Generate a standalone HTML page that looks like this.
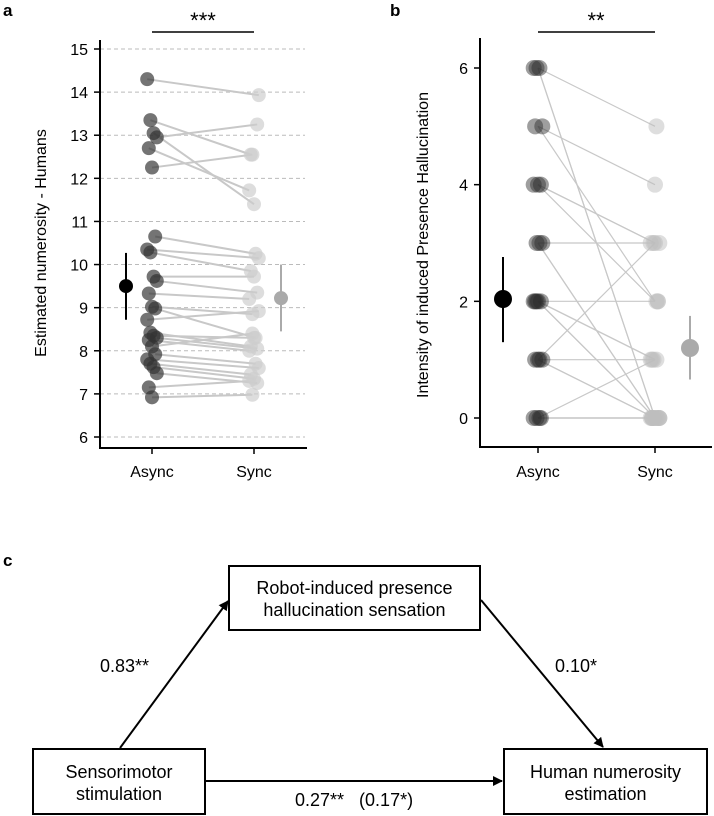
<!DOCTYPE html>
<html><head><meta charset="utf-8">
<style>
body{margin:0;background:#fff;}
svg{display:block;font-family:"Liberation Sans",Arial,sans-serif;}
</style></head>
<body>
<svg id="fig" width="714" height="816" viewBox="0 0 714 816">
  <text x="3" y="16" font-size="17" font-weight="bold">a</text>
  <text x="390" y="16" font-size="17" font-weight="bold">b</text>
  <text x="3" y="566" font-size="17" font-weight="bold">c</text>
  <g id="pa"></g>
  <g id="pb"></g>
  <g id="pc">
    <defs><marker id="ah" markerWidth="5" markerHeight="5" refX="4.5" refY="2.5" orient="auto" markerUnits="strokeWidth"><path d="M0,0 L5,2.5 L0,5 z" fill="#000"/></marker></defs>
    <rect x="229" y="566" width="251" height="64" fill="#fff" stroke="#000" stroke-width="2"/>
    <text x="354.5" y="594" font-size="18" text-anchor="middle">Robot-induced presence</text>
    <text x="354.5" y="616" font-size="18" text-anchor="middle">hallucination sensation</text>
    <rect x="33" y="749" width="172" height="65" fill="#fff" stroke="#000" stroke-width="2"/>
    <text x="119" y="778" font-size="18" text-anchor="middle">Sensorimotor</text>
    <text x="119" y="800" font-size="18" text-anchor="middle">stimulation</text>
    <rect x="504" y="749" width="203" height="65" fill="#fff" stroke="#000" stroke-width="2"/>
    <text x="605.5" y="778" font-size="18" text-anchor="middle">Human numerosity</text>
    <text x="605.5" y="800" font-size="18" text-anchor="middle">estimation</text>
    <line x1="120" y1="748" x2="228" y2="601" stroke="#000" stroke-width="2" marker-end="url(#ah)"/>
    <line x1="481" y1="600" x2="603" y2="747" stroke="#000" stroke-width="2" marker-end="url(#ah)"/>
    <line x1="205" y1="781" x2="502" y2="781" stroke="#000" stroke-width="2" marker-end="url(#ah)"/>
    <text x="100" y="672" font-size="18">0.83**</text>
    <text x="555" y="672" font-size="18">0.10*</text>
    <text x="295" y="806" font-size="18" xml:space="preserve">0.27**   (0.17*)</text>
  </g>
</svg>
<script>
const aAsync=[14.3,13.35,13.05,12.95,12.7,12.25,10.65,10.35,10.28,9.72,9.62,9.33,9.02,8.98,8.72,8.42,8.35,8.3,8.25,8.1,7.92,7.8,7.7,7.62,7.48,7.15,6.92];
const aSync=[13.93,12.55,11.4,13.25,11.72,12.55,10.25,10.15,9.85,9.72,9.35,9.2,8.85,8.3,8.92,8.1,8.3,8.05,8.0,8.4,7.7,7.6,7.45,7.35,7.25,7.3,6.98];
const aMeans=[9.5,9.22];
const aCILow=[8.72,8.45];
const aCIHigh=[10.27,10.0];
const aTicks=[6,7,8,9,10,11,12,13,14,15];
const bAsync=[6,6,6,5,5,4,4,4,3,3,3,2,2,2,2,2,1,1,1,1,0,0,0,0];
const bSync=[5,0,0,4,2,3,3,2,3,0,0,2,1,1,0,0,1,3,0,0,0,1,0,0];
const bMeans=[2.04,1.2];
const bCILow=[1.3,0.66];
const bCIHigh=[2.76,1.75];
const bTicks=[0,2,4,6];
const cats=["Async","Sync"];

const NS="http://www.w3.org/2000/svg";
function mk(p,t,a){const e=document.createElementNS(NS,t);for(const k in a)e.setAttribute(k,a[k]);p.appendChild(e);return e;}
function jit(i){return ((i*37)%7-3)*1.6;}

// Panel A
(function(){
 const g=document.getElementById('pa');
 const y=v=>437-(v-6)*(437-49)/9;
 const xc=[152,254], xm=[126,281];
 aTicks.forEach(t=>{
  let l=mk(g,'line',{x1:100,x2:305,y1:y(t),y2:y(t),stroke:'#bbb','stroke-dasharray':'4,3','stroke-width':1});
  
  
  let tk=mk(g,'line',{x1:94,x2:100,y1:y(t),y2:y(t),stroke:'#000','stroke-width':1.5});
  
  
  let tx=mk(g,'text',{x:88,y:y(t)+6,'font-size':16,'text-anchor':'end'});tx.textContent=t;
  
  
 });
 aAsync.forEach((v,i)=>{
  let l=mk(g,'line',{x1:xc[0]+jit(i),y1:y(v),x2:xc[1]+jit(i+3),y2:y(aSync[i]),stroke:'#c8c8c8','stroke-width':2});
  
  
 });
 aAsync.forEach((v,i)=>{
  let c=mk(g,'circle',{cx:xc[0]+jit(i),cy:y(v),r:7,fill:'rgba(50,50,50,0.68)'});
  
  
 });
 aSync.forEach((v,i)=>{
  let c=mk(g,'circle',{cx:xc[1]+jit(i+3),cy:y(v),r:7,fill:'rgba(205,205,205,0.68)'});
  
  
 });
 const mc=['#000','#aaa'];
 [0,1].forEach(k=>{
  let l=mk(g,'line',{x1:xm[k],x2:xm[k],y1:y(aCILow[k]),y2:y(aCIHigh[k]),stroke:mc[k],'stroke-width':2});
  
  
  let c=mk(g,'circle',{cx:xm[k],cy:y(aMeans[k]),r:7,fill:mc[k]});
  
  
  let tk=mk(g,'line',{x1:xc[k],x2:xc[k],y1:448,y2:454,stroke:'#000','stroke-width':1.5});
  
  
  let tx=mk(g,'text',{x:xc[k],y:477,'font-size':16,'text-anchor':'middle'});tx.textContent=cats[k];
  
  
 });
 let ax=mk(g,'path',{d:'M100,40 L100,448 L307,448',fill:'none',stroke:'#000','stroke-width':2});
 
 
 let sb=mk(g,'line',{x1:152,x2:254,y1:32,y2:32,stroke:'#000','stroke-width':1.5});
 
 
 let st=mk(g,'text',{x:203,y:28,'font-size':22,'text-anchor':'middle'});st.textContent='***';
 
 
 let yl=mk(g,'text',{x:0,y:0,'font-size':16,'text-anchor':'middle',transform:'translate(46,243) rotate(-90)'});yl.textContent='Estimated numerosity - Humans';
 
 
})();

// Panel B
(function(){
 const g=document.getElementById('pb');
 const y=v=>418-v*(418-68)/6;
 const xc=[538,655], xm=[503,690];
 bTicks.forEach(t=>{
  let tk=mk(g,'line',{x1:474,x2:480,y1:y(t),y2:y(t),stroke:'#000','stroke-width':1.5});
  
  
  let tx=mk(g,'text',{x:468,y:y(t)+6,'font-size':16,'text-anchor':'end'});tx.textContent=t;
  
  
 });
 bAsync.forEach((v,i)=>{
  let l=mk(g,'line',{x1:xc[0],y1:y(v),x2:xc[1],y2:y(bSync[i]),stroke:'#c8c8c8','stroke-width':1.2});
  
  
 });
 bAsync.forEach((v,i)=>{
  let c=mk(g,'circle',{cx:xc[0]+jit(i)*0.9,cy:y(v),r:8,fill:'rgba(40,40,40,0.45)'});
  
  
 });
 bSync.forEach((v,i)=>{
  let c=mk(g,'circle',{cx:xc[1]+jit(i+2)*0.9,cy:y(v),r:8,fill:'rgba(190,190,190,0.5)'});
  
  
 });
 const mc=['#000','#aaa'];
 [0,1].forEach(k=>{
  let l=mk(g,'line',{x1:xm[k],x2:xm[k],y1:y(bCILow[k]),y2:y(bCIHigh[k]),stroke:mc[k],'stroke-width':2});
  
  
  let c=mk(g,'circle',{cx:xm[k],cy:y(bMeans[k]),r:9,fill:mc[k]});
  
  
  let tk=mk(g,'line',{x1:xc[k],x2:xc[k],y1:447,y2:453,stroke:'#000','stroke-width':1.5});
  
  
  let tx=mk(g,'text',{x:xc[k],y:477,'font-size':16,'text-anchor':'middle'});tx.textContent=cats[k];
  
  
 });
 let ax=mk(g,'path',{d:'M480,38 L480,447 L712,447',fill:'none',stroke:'#000','stroke-width':2});
 
 
 let sb=mk(g,'line',{x1:538,x2:655,y1:32,y2:32,stroke:'#000','stroke-width':1.5});
 
 
 let st=mk(g,'text',{x:596,y:28,'font-size':22,'text-anchor':'middle'});st.textContent='**';
 
 
 let yl=mk(g,'text',{x:0,y:0,'font-size':16,'text-anchor':'middle',transform:'translate(428,245) rotate(-90)'});yl.textContent='Intensity of induced Presence Hallucination';
 
 
})();
</script>
</body></html>
